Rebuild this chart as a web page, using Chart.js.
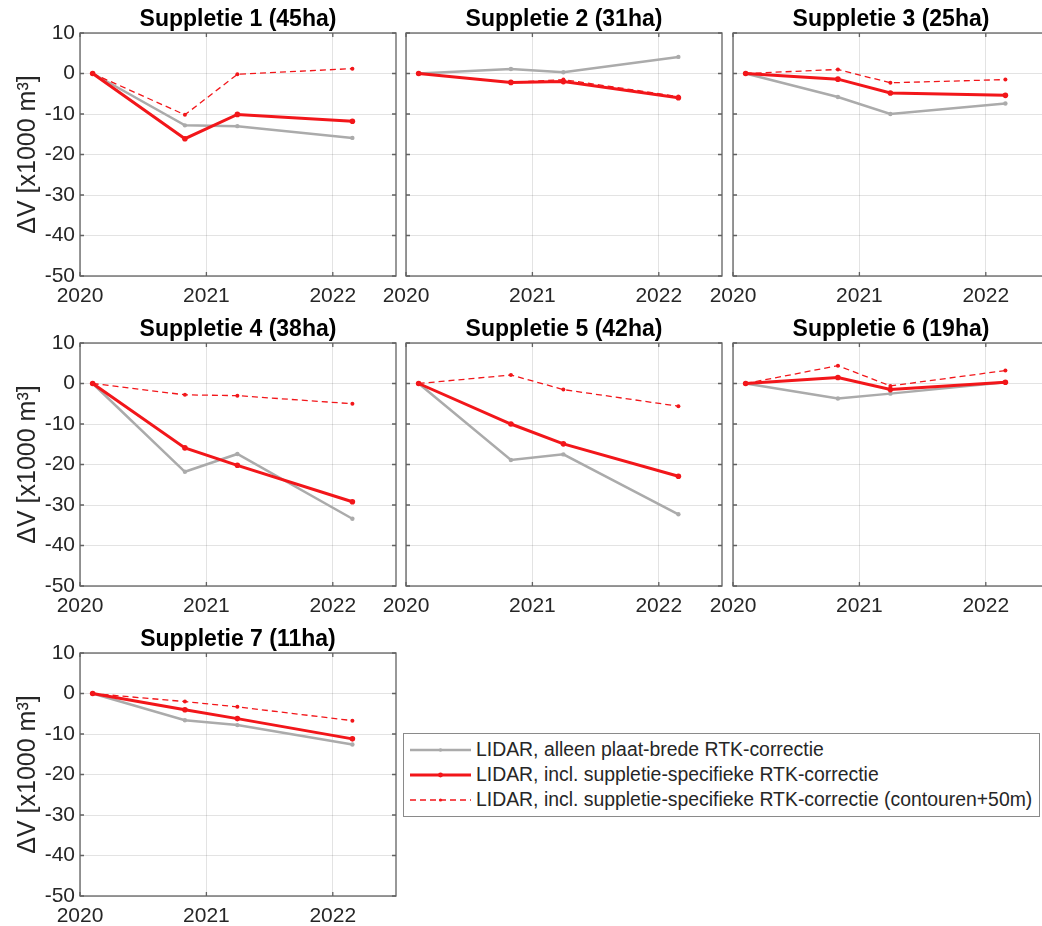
<!DOCTYPE html>
<html>
<head>
<meta charset="utf-8">
<script src="https://cdn.jsdelivr.net/npm/chart.js@4.4.0/dist/chart.umd.min.js"></script>
<style>
  html, body { margin: 0; padding: 0; background: #fff; overflow: hidden; width: 1042px; height: 926px; }
  .paneel { position: absolute; }
  #legenda {
    position: absolute; left: 403px; top: 733px; width: 637px; height: 84px;
    box-sizing: border-box; border: 1px solid #8a8a8a; background: #fff;
    font-family: 'Liberation Sans', Arial, sans-serif; font-size: 19.4px; color: #262626;
    padding-top: 3px;
  }
  .rij { height: 25px; display: flex; align-items: center; white-space: nowrap; }
  .rij svg { margin-left: 6px; margin-right: 5px; flex: none; }
</style>
</head>
<body>
<div id="legenda"></div>
<script>
// meetmomenten in decimale jaren
const meetmomenten = [2020.10, 2020.83, 2021.245, 2022.155];
const jaarTicks = [2020, 2021, 2022];

const titels = [
  'Suppletie 1 (45ha)', 'Suppletie 2 (31ha)', 'Suppletie 3 (25ha)',
  'Suppletie 4 (38ha)', 'Suppletie 5 (42ha)', 'Suppletie 6 (19ha)',
  'Suppletie 7 (11ha)'
];

const reeksLabels = [
  'LIDAR, alleen plaat-brede RTK-correctie',
  'LIDAR, incl. suppletie-specifieke RTK-correctie',
  'LIDAR, incl. suppletie-specifieke RTK-correctie (contouren+50m)'
];

// volumeverschil t.o.v. eerste meting [x1000 m3], per suppletie
const plaatBreed = [
  [0, -12.8, -13.0, -15.9],
  [0, 1.1, 0.3, 4.1],
  [0, -5.8, -10.0, -7.4],
  [0, -21.8, -17.4, -33.4],
  [0, -18.9, -17.5, -32.3],
  [0, -3.7, -2.5, 0.3],
  [0, -6.6, -7.8, -12.6]
];
const suppletieSpecifiek = [
  [0, -16.1, -10.1, -11.8],
  [0, -2.2, -2.0, -6.0],
  [0, -1.4, -4.8, -5.4],
  [0, -15.9, -20.2, -29.2],
  [0, -10.0, -14.9, -22.9],
  [0, 1.5, -1.5, 0.3],
  [0, -4.0, -6.2, -11.2]
];
const contouren50m = [
  [0, -10.2, -0.2, 1.2],
  [0, -2.2, -1.5, -5.7],
  [0, 1.0, -2.3, -1.5],
  [0, -2.8, -3.0, -5.0],
  [0, 2.1, -1.5, -5.6],
  [0, 4.4, -0.6, 3.2],
  [0, -2.0, -3.3, -6.7]
];

const grijs = '#ababab';
const rood = 'rgb(242, 22, 26)';
const raster = 'rgba(0, 0, 0, 0.11)';
const lettertype = "'Liberation Sans', Arial, sans-serif";

const reeksStijlen = [
  { kleur: grijs, breedte: 2.5, streep: [], punt: 2.2 },
  { kleur: rood, breedte: 3, streep: [], punt: 2.8 },
  { kleur: rood, breedte: 1.3, streep: [6, 4], punt: 2.0 }
];

function punten(waarden) {
  return waarden.map((v, k) => ({ x: meetmomenten[k], y: v }));
}

// asbox met naar binnen wijzende tickjes
const kader = {
  id: 'kader',
  beforeDatasetsDraw(chart) {
    const { ctx, chartArea: a, scales } = chart;
    ctx.save();
    ctx.strokeStyle = '#626262';
    ctx.lineWidth = 1.3;
    ctx.beginPath();
    scales.y.ticks.forEach(t => {
      const y = scales.y.getPixelForValue(t.value);
      ctx.moveTo(a.left, y); ctx.lineTo(a.left + 4, y);
      ctx.moveTo(a.right, y); ctx.lineTo(a.right - 4, y);
    });
    scales.x.ticks.forEach(t => {
      const x = scales.x.getPixelForValue(t.value);
      ctx.moveTo(x, a.bottom); ctx.lineTo(x, a.bottom - 4);
      ctx.moveTo(x, a.top); ctx.lineTo(x, a.top + 4);
    });
    ctx.stroke();
    ctx.strokeRect(a.left, a.top, a.right - a.left, a.bottom - a.top);
    ctx.restore();
  }
};

function maakPaneel(i) {
  const kol = i % 3, rij = Math.floor(i / 3);
  const links = [80, 406, 733][kol];
  const boven = [33, 343, 653][rij];
  const eersteKolom = kol === 0;

  const div = document.createElement('div');
  div.className = 'paneel';
  div.style.left = (links - 80) + 'px';
  div.style.top = (boven - 34) + 'px';
  const canvas = document.createElement('canvas');
  canvas.width = 406;
  canvas.height = 317;
  div.appendChild(canvas);
  document.body.appendChild(div);

  const reeksen = [plaatBreed[i], suppletieSpecifiek[i], contouren50m[i]];

  new Chart(canvas, {
    type: 'line',
    data: {
      datasets: reeksen.map((r, k) => ({
        label: reeksLabels[k],
        data: punten(r),
        borderColor: reeksStijlen[k].kleur,
        backgroundColor: reeksStijlen[k].kleur,
        borderWidth: reeksStijlen[k].breedte,
        borderDash: reeksStijlen[k].streep,
        pointRadius: reeksStijlen[k].punt,
        pointBorderWidth: 0,
        pointBackgroundColor: reeksStijlen[k].kleur,
        order: 3 - k
      }))
    },
    options: {
      responsive: false,
      animation: false,
      devicePixelRatio: 1,
      layout: { padding: { right: 10 } },
      plugins: {
        legend: { display: false },
        tooltip: { enabled: false },
        title: {
          display: true,
          text: titels[i],
          fullSize: false,
          color: '#000',
          font: { family: lettertype, size: 23, weight: 'bold', lineHeight: 1 },
          padding: { top: 9, bottom: 2 }
        }
      },
      scales: {
        x: {
          type: 'linear',
          min: 2020,
          max: 2022.5,
          afterBuildTicks: s => { s.ticks = jaarTicks.map(v => ({ value: v })); },
          afterFit: s => { s.height = 40; },
          ticks: {
            callback: v => String(v),
            color: '#262626',
            font: { family: lettertype, size: 21 },
            padding: 8,
            maxRotation: 0,
            autoSkip: false
          },
          grid: { color: raster, drawTicks: false },
          border: { display: false }
        },
        y: {
          min: -50,
          max: 10,
          afterFit: s => { s.width = 80; },
          ticks: {
            display: eersteKolom,
            stepSize: 10,
            color: '#262626',
            font: { family: lettertype, size: 21 },
            padding: 5
          },
          title: {
            display: eersteKolom,
            text: 'ΔV [x1000 m³]',
            color: '#262626',
            font: { family: lettertype, size: 25 },
            padding: { top: 13 }
          },
          grid: { color: raster, drawTicks: false },
          border: { display: false }
        }
      }
    },
    plugins: [kader]
  });
}

titels.forEach((t, i) => maakPaneel(i));

// gezamenlijke legenda
const legenda = document.getElementById('legenda');
reeksLabels.forEach((label, k) => {
  const s = reeksStijlen[k];
  const rijDiv = document.createElement('div');
  rijDiv.className = 'rij';
  const dash = s.streep.length ? `stroke-dasharray="${s.streep.join(' ')}"` : '';
  rijDiv.innerHTML =
    `<svg width="61" height="10"><line x1="0" y1="5" x2="61" y2="5" stroke="${s.kleur}" stroke-width="${s.breedte}" ${dash}/>` +
    `<circle cx="30.5" cy="5" r="${s.punt - 0.4}" fill="${s.kleur}"/></svg><span>${label}</span>`;
  legenda.appendChild(rijDiv);
});
</script>
</body>
</html>
